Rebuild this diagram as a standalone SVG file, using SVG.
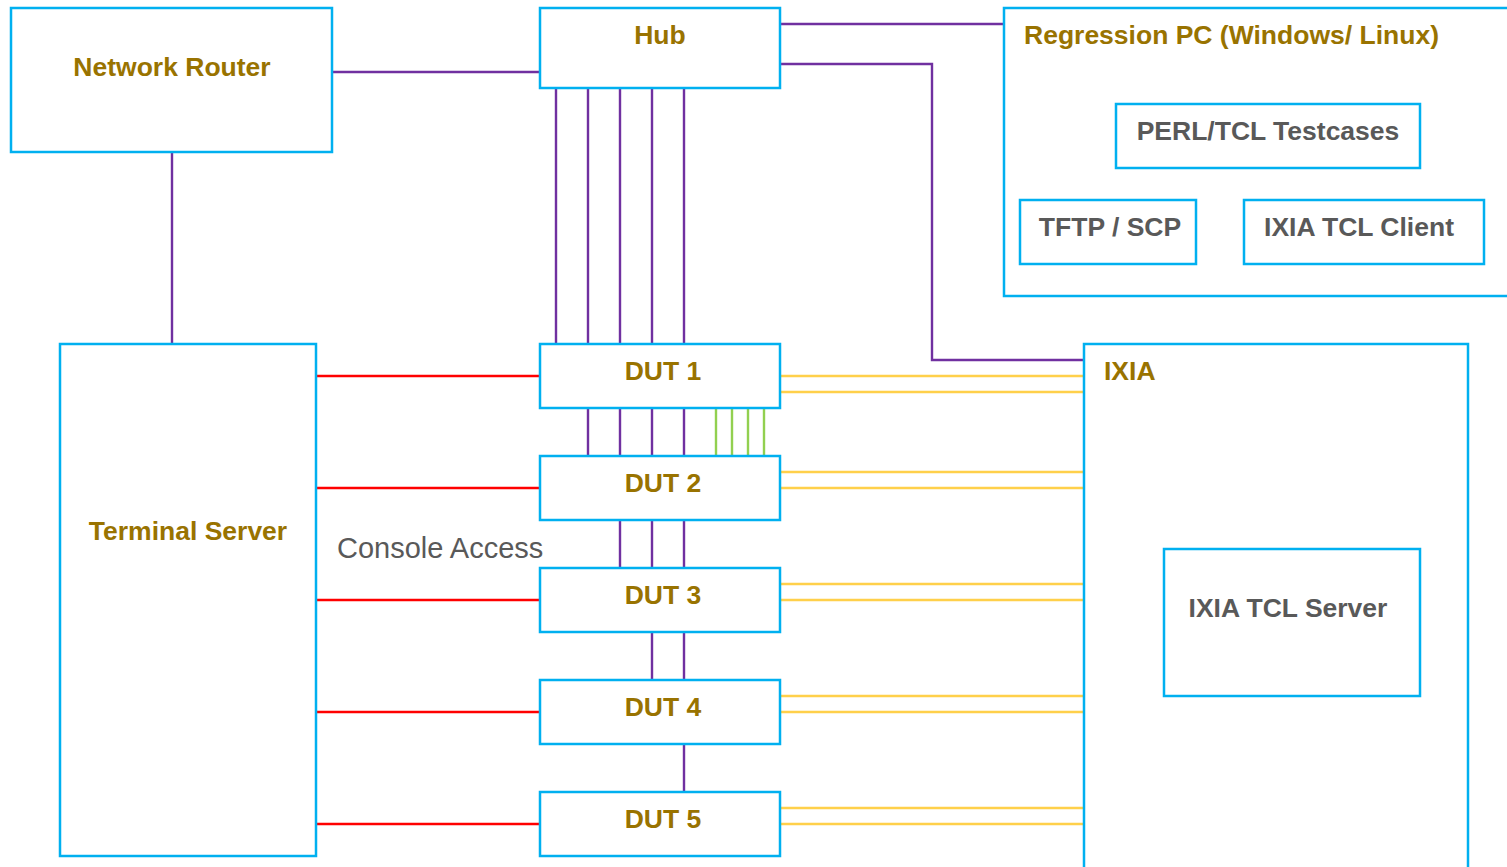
<svg xmlns="http://www.w3.org/2000/svg" width="1507" height="867" viewBox="0 0 1507 867">
<style>
.box{fill:#fff;stroke:#00B0F0;stroke-width:2.5}
.t{font-family:"Liberation Sans",Arial,sans-serif;font-weight:bold;font-size:26.5px;fill:#997300;dominant-baseline:central}
.g{font-family:"Liberation Sans",Arial,sans-serif;font-weight:bold;font-size:26.5px;fill:#595959;dominant-baseline:central}
.p{stroke:#7030A0;stroke-width:2.4;fill:none}
.r{stroke:#FF0000;stroke-width:2.4;fill:none}
.y{stroke:#FFD04A;stroke-width:2.4;fill:none}
.gr{stroke:#92D050;stroke-width:2.4;fill:none}
</style>
<rect width="1507" height="867" fill="#fff"/>
<g id="connectors">
<path class="p" d="M332 72H540M172 152V344M780 24H1004M780 64H932V360H1084"/>
<path class="p" d="M556 88V344M588 88V344M620 88V344M652 88V344M684 88V344"/>
<path class="p" d="M588 408V456M620 408V456M652 408V456M684 408V456"/>
<path class="p" d="M620 520V568M652 520V568M684 520V568"/>
<path class="p" d="M652 632V680M684 632V680M684 744V792"/>
<path class="gr" d="M716 408V456M732 408V456M748 408V456M764 408V456"/>
<path class="r" d="M316 376H540M316 488H540M316 600H540M316 712H540M316 824H540"/>
<path class="y" d="M780 376H1084M780 392H1084M780 472H1084M780 488H1084M780 584H1084M780 600H1084M780 696H1084M780 712H1084M780 808H1084M780 824H1084"/>
</g>
<g id="network-router"><rect class="box" x="11" y="8" width="321" height="144"/><text class="t" x="172" y="67" text-anchor="middle">Network Router</text></g>
<g id="hub"><rect class="box" x="540" y="8" width="240" height="80"/><text class="t" x="660" y="35" text-anchor="middle">Hub</text></g>
<g id="regression-pc"><rect class="box" x="1004" y="8" width="510" height="288"/><text class="t" x="1024" y="35">Regression PC (Windows/ Linux)</text></g>
<g id="perl-tcl"><rect class="box" x="1116" y="104" width="304" height="64"/><text class="g" x="1268" y="131" text-anchor="middle">PERL/TCL Testcases</text></g>
<g id="tftp-scp"><rect class="box" x="1020" y="200" width="176" height="64"/><text class="g" x="1110" y="227" text-anchor="middle">TFTP / SCP</text></g>
<g id="ixia-tcl-client"><rect class="box" x="1244" y="200" width="240" height="64"/><text class="g" x="1359" y="227" text-anchor="middle">IXIA TCL Client</text></g>
<g id="terminal-server"><rect class="box" x="60" y="344" width="256" height="512"/><text class="t" x="188" y="531" text-anchor="middle">Terminal Server</text></g>
<g id="dut1"><rect class="box" x="540" y="344" width="240" height="64"/><text class="t" x="663" y="371" text-anchor="middle">DUT 1</text></g>
<g id="dut2"><rect class="box" x="540" y="456" width="240" height="64"/><text class="t" x="663" y="483" text-anchor="middle">DUT 2</text></g>
<g id="dut3"><rect class="box" x="540" y="568" width="240" height="64"/><text class="t" x="663" y="595" text-anchor="middle">DUT 3</text></g>
<g id="dut4"><rect class="box" x="540" y="680" width="240" height="64"/><text class="t" x="663" y="707" text-anchor="middle">DUT 4</text></g>
<g id="dut5"><rect class="box" x="540" y="792" width="240" height="64"/><text class="t" x="663" y="819" text-anchor="middle">DUT 5</text></g>
<g id="ixia"><rect class="box" x="1084" y="344" width="384" height="540"/><text class="t" x="1104" y="371">IXIA</text></g>
<g id="ixia-tcl-server"><rect class="box" x="1164" y="549" width="256" height="147"/><text class="g" x="1288" y="608" text-anchor="middle">IXIA TCL Server</text></g>
<text x="337" y="548" font-family="'Liberation Sans',Arial,sans-serif" font-size="29" fill="#595959" dominant-baseline="central">Console Access</text>
</svg>
